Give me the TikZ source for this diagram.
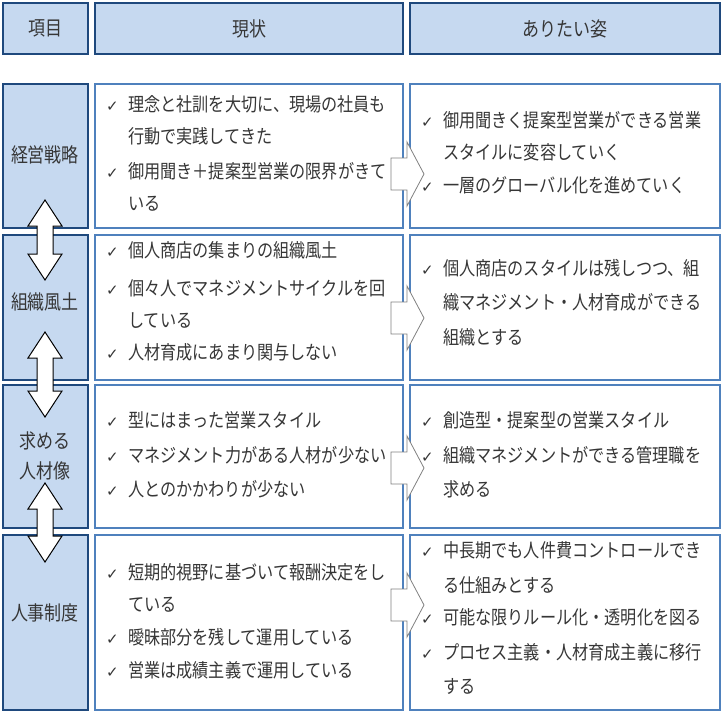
\documentclass[tikz,border=0pt]{standalone}
\usepackage{fontspec}
\usepackage{graphicx}
\setmainfont{Noto Sans CJK JP}
\newfontfamily\symf{DejaVu Sans}
\definecolor{hdfill}{HTML}{C6D9F0}
\definecolor{hdline}{HTML}{1F497D}
\definecolor{bxline}{HTML}{4F81BD}
\definecolor{txt}{HTML}{363636}
\newcommand\cond[1]{\scalebox{0.85}[1]{#1}}
\begin{document}
\begin{tikzpicture}[x=1pt,y=-1pt,
  hd/.style={draw=hdline,line width=2.5pt,fill=hdfill},
  bx/.style={draw=bxline,line width=1.5pt,fill=white},
  tl/.style={anchor=base west,text=txt,font=\fontsize{19}{22}\selectfont,inner sep=0pt},
  ck/.style={anchor=base west,text=txt,font=\symf\fontsize{15}{16}\selectfont,inner sep=0pt},
  lab/.style={text=txt,font=\fontsize{20}{30}\selectfont,align=center},
  rarr/.style={draw=gray,fill=white,line width=0.8pt},
  darr/.style={draw=black,fill=white,line width=1pt}]
\useasboundingbox (0,0) rectangle (724,724);
% headers
\draw[hd] (3,3) rectangle (88,54) node[midway,lab] (h1) {\cond{項目}};
\draw[hd] (95,3) rectangle (403,54) node[midway,lab] (h2) {\cond{現状}};
\draw[hd] (410,3) rectangle (720,54) node[midway,lab] (h3) {\cond{ありたい姿}};
% rows
\foreach \a/\b in {84/228,235/380,385/528,535/710}{
  \draw[hd] (3,\a) rectangle (88,\b);
  \draw[bx] (95,\a) rectangle (403,\b);
  \draw[bx] (410,\a) rectangle (720,\b);
}
\node[lab] (l1) at (45,155) {\cond{経営戦略}};
\node[lab] (l2) at (45,302) {\cond{組織風土}};
\node[lab] (l3) at (45,456) {\cond{求める}\\\cond{人材像}};
\node[lab] (l4) at (45,613) {\cond{人事制度}};
\def\tx#1#2#3{\node[tl] at (#1,#2) {\cond{#3}};}
% col2 text
\foreach \y in {111,178,257,295,359,427,462,496,579,644,677}{\node[ck] at (106,\y) {✓};}
\tx{128}{111}{理念と社訓を大切に、現場の社員も}
\tx{128}{143}{行動で実践してきた}
\tx{128}{178}{御用聞き＋提案型営業の限界がきて}
\tx{128}{210}{いる}
\tx{128}{257}{個人商店の集まりの組織風土}
\tx{128}{295}{個々人でマネジメントサイクルを回}
\tx{128}{327}{している}
\tx{128}{359}{人材育成にあまり関与しない}
\tx{128}{427}{型にはまった営業スタイル}
\tx{128}{462}{マネジメント力がある人材が少ない}
\tx{128}{496}{人とのかかわりが少ない}
\tx{128}{579}{短期的視野に基づいて報酬決定をし}
\tx{128}{611}{ている}
\tx{128}{644}{曖昧部分を残して運用している}
\tx{128}{677}{営業は成績主義で運用している}
% col3 text
\foreach \y in {127,192,275,427,462,557,624,659}{\node[ck] at (421,\y) {✓};}
\tx{443}{127}{御用聞きく提案型営業ができる営業}
\tx{443}{159}{スタイルに変容していく}
\tx{443}{192}{一層のグローバル化を進めていく}
\tx{443}{275}{個人商店のスタイルは残しつつ、組}
\tx{443}{309}{織マネジメント・人材育成ができる}
\tx{443}{344}{組織とする}
\tx{443}{427}{創造型・提案型の営業スタイル}
\tx{443}{462}{組織マネジメントができる管理職を}
\tx{443}{496}{求める}
\tx{443}{557}{中長期でも人件費コントロールでき}
\tx{443}{592}{る仕組みとする}
\tx{443}{624}{可能な限りルール化・透明化を図る}
\tx{443}{659}{プロセス主義・人材育成主義に移行}
\tx{443}{693}{する}
% right arrows
\foreach \c in {174,318,468,605}{
  \draw[rarr] (391,\c-16) -- (407,\c-16) -- (407,\c-32) -- (424,\c) -- (407,\c+32) -- (407,\c+16) -- (391,\c+16) -- cycle;
}
% double arrows
\foreach \t/\b in {200/280,332/417,483/562}{
  \draw[darr] (45,\t) -- (62,\t+26) -- (53,\t+26) -- (53,\b-26) -- (62,\b-26) -- (45,\b) -- (28,\b-26) -- (37,\b-26) -- (37,\t+26) -- (28,\t+26) -- cycle;
}
\end{tikzpicture}
\end{document}
